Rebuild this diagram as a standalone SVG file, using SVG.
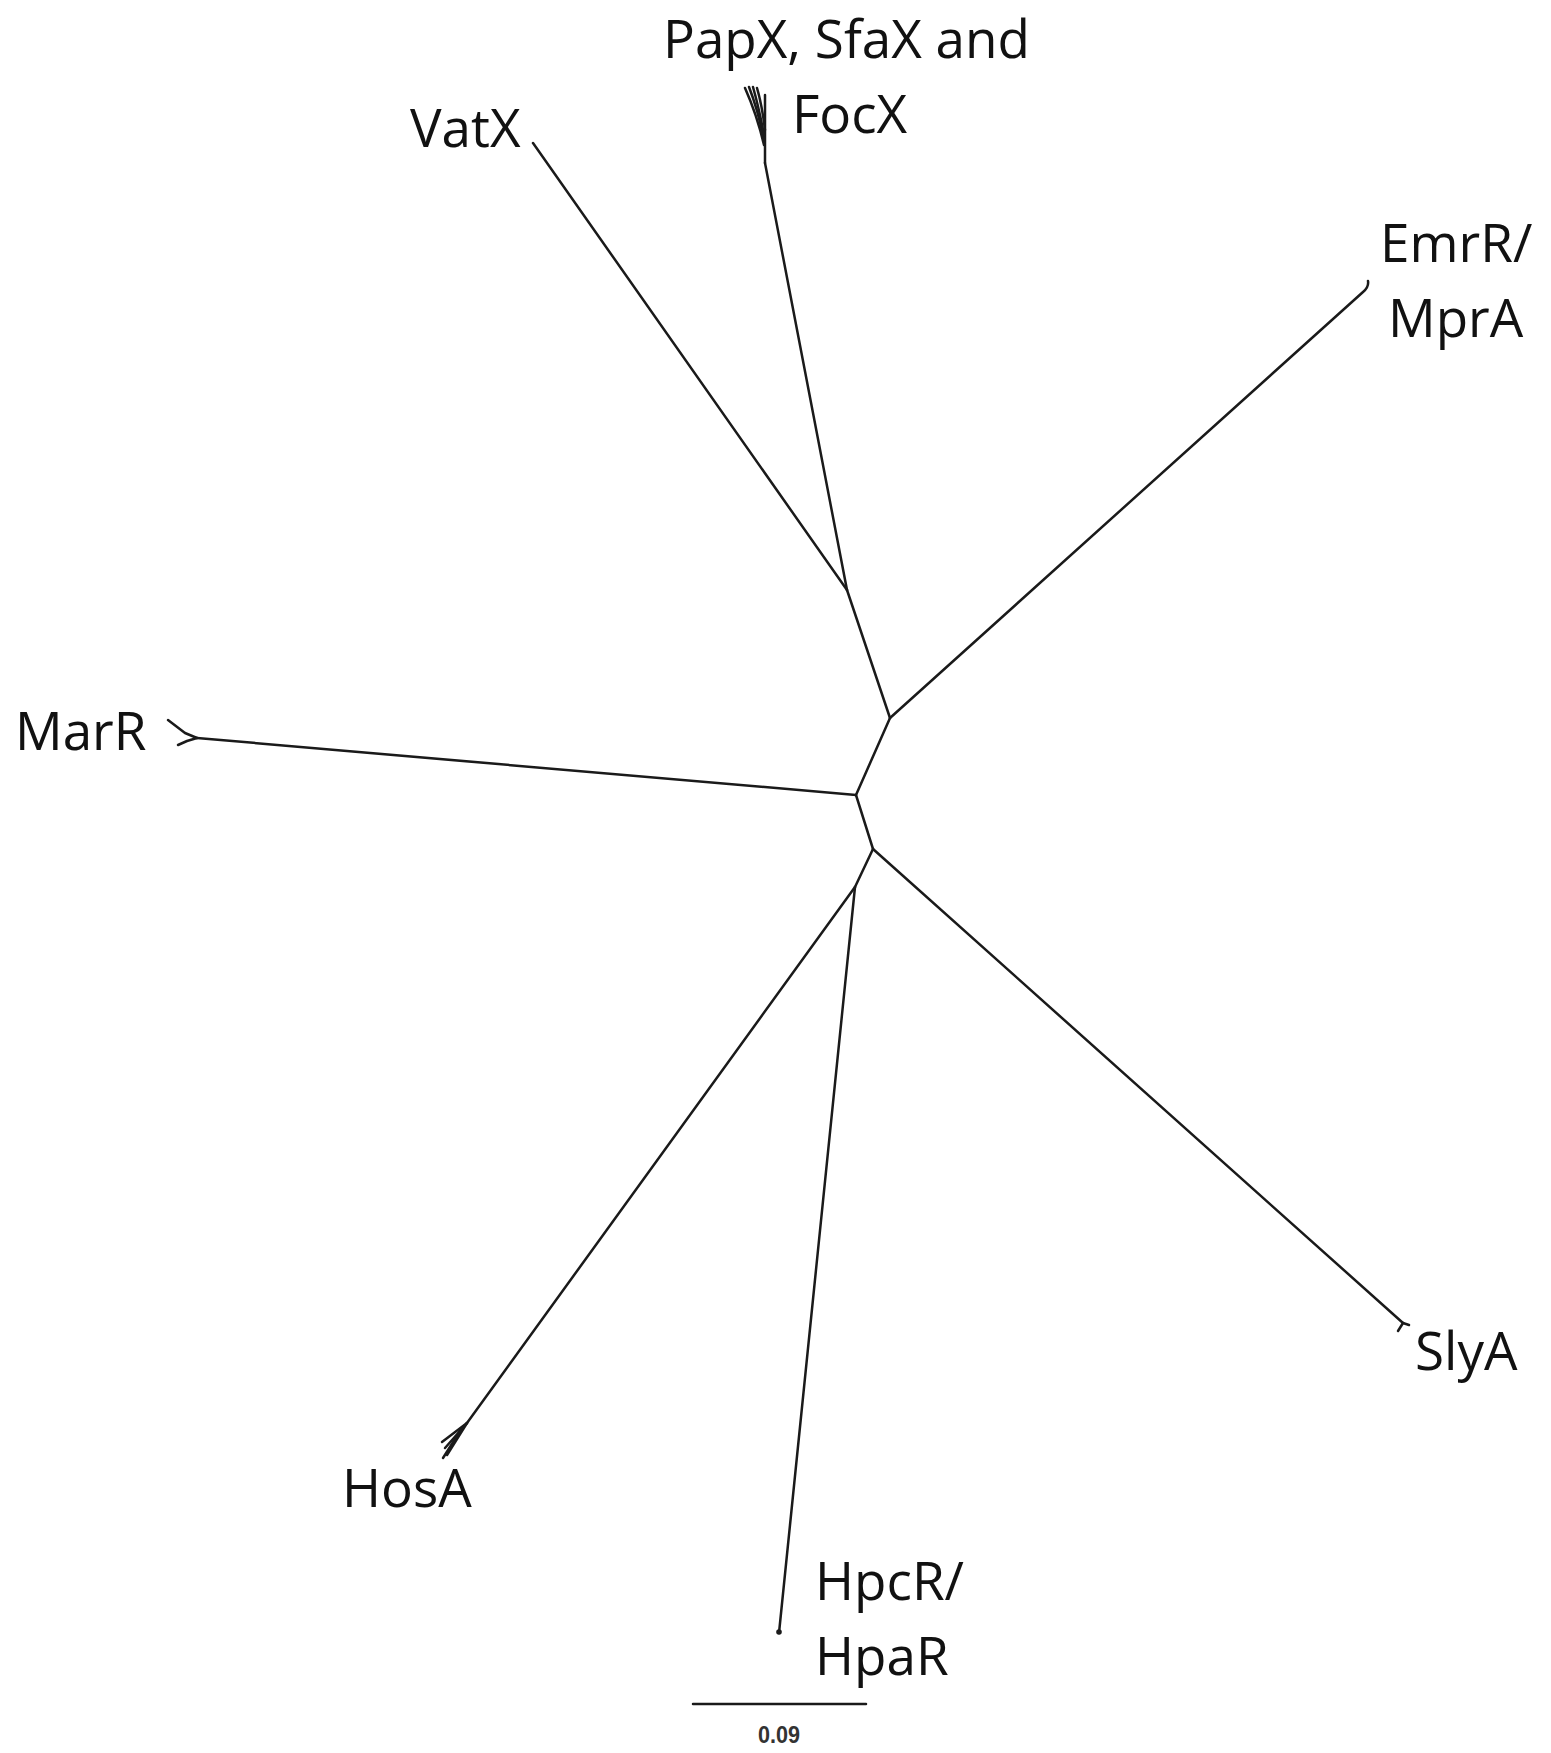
<svg xmlns="http://www.w3.org/2000/svg" width="1551" height="1753" viewBox="0 0 1551 1753">
<style>
.e{fill:none;stroke:#1a1a1a;stroke-width:2.5;stroke-linecap:round;stroke-linejoin:round}
.t{font-family:"Open Sans","Noto Sans","Liberation Sans",sans-serif;font-size:53px;fill:#111}
.s{font-family:"Liberation Sans","DejaVu Sans",sans-serif;font-size:23px;font-weight:bold;fill:#333}
</style>
<rect width="1551" height="1753" fill="#fff"/>
<g id="connectors">
<path class="e" d="M890,718 L856,795"/>
<path class="e" d="M890,718 L847,590"/>
<path class="e" d="M847,590 L533,143"/>
<path class="e" d="M847,590 L765,163"/>
<path class="e" d="M890,718 L1363,292 Q1369,287 1368,281"/>
<path class="e" d="M856,795 L197,738"/>
<path class="e" d="M856,795 L873,849"/>
<path class="e" d="M873,849 L1403,1323"/>
<path class="e" d="M873,849 L855,887"/>
<path class="e" d="M855,887 L467,1423"/>
<path class="e" d="M855,887 L779,1633"/>
</g>
<g id="node-papx">
<path class="e" d="M765,163 L765,95"/>
<path class="e" d="M764,145 Q757,115 745,88"/>
<path class="e" d="M764,140 Q758,110 749,87"/>
<path class="e" d="M764,135 Q759,108 753,87"/>
<path class="e" d="M765,130 Q762,105 757,88"/>
<text class="t" x="663" y="58">PapX, SfaX and</text>
<text class="t" x="792" y="133">FocX</text>
</g>
<g id="node-vatx">
<text class="t" x="410" y="147">VatX</text>
</g>
<g id="node-emrr">
<text class="t" x="1380" y="262">EmrR/</text>
<text class="t" x="1388" y="337">MprA</text>
</g>
<g id="node-marr">
<path class="e" d="M197,738 L185,733 L168,720"/>
<path class="e" d="M197,738 L187,741 L178,745"/>
<text class="t" x="15" y="750">MarR</text>
</g>
<g id="node-slya">
<path class="e" d="M1403,1323 L1398,1331"/>
<path class="e" d="M1403,1323 L1409,1325"/>
<text class="t" x="1415" y="1370">SlyA</text>
</g>
<g id="node-hosa">
<path class="e" d="M467,1423 L442,1442"/>
<path class="e" d="M467,1423 L445,1448"/>
<path class="e" d="M467,1423 L447,1455"/>
<path class="e" d="M462,1428 L443,1458"/>
<text class="t" x="342" y="1507">HosA</text>
</g>
<g id="node-hpcr">
<circle cx="779" cy="1632" r="2.8" fill="#1a1a1a"/>
<text class="t" x="815" y="1600">HpcR/</text>
<text class="t" x="815" y="1675">HpaR</text>
</g>
<g id="scale">
<path class="e" d="M693,1704 L866,1704"/>
<text class="s" x="758" y="1743" textLength="42" lengthAdjust="spacingAndGlyphs">0.09</text>
</g>
</svg>
